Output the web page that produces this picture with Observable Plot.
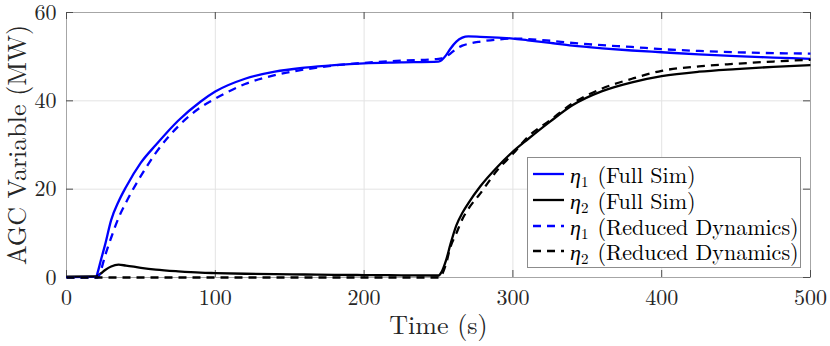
<!DOCTYPE html>
<html><head><meta charset="utf-8">
<script src="https://cdn.jsdelivr.net/npm/d3@7"></script>
<script src="https://cdn.jsdelivr.net/npm/@observablehq/plot@0.6"></script>
<style>
html,body{margin:0;padding:0;background:#fff;}
#wrap{position:relative;width:830px;height:346px;font-family:"Latin Modern Roman","CMU Serif","Liberation Serif",serif;}
#legend{position:absolute;left:527px;top:157px;width:272px;height:109px;border:1px solid #8c8c8c;background:#fff;}
.row{position:absolute;left:0;height:26px;line-height:26px;font-size:22px;color:#000;white-space:nowrap;}
.row svg{position:absolute;left:0;top:0;}
.row .lab{position:absolute;left:42px;top:0;}
.row sub{font-size:15px;vertical-align:-4px;line-height:0;margin-right:9px;}
#ylab{position:absolute;left:16px;top:145px;transform:translate(-50%,-50%) rotate(-90deg);font-size:26px;color:#262626;white-space:nowrap;line-height:1;}
</style></head><body><div id="wrap"></div>
<script>
const FONT = '"Latin Modern Roman","CMU Serif","Liberation Serif",serif';

// Shared time axis (s)
const time = [0, 20, 21, 23, 26, 30, 35, 40, 50, 60, 75, 90, 100, 120, 140, 160, 180, 200, 225, 250,
  252, 255, 258, 262, 266, 270, 278, 290, 300, 310, 325, 340, 360, 380, 400, 425, 450, 475, 500];

const eta1Full = [0.1, 0.2, 1.2, 3.8, 7.5, 13, 17.2, 20.5, 26, 30, 35.5, 39.8, 42.1, 45, 46.6, 47.5, 48.1, 48.5, 48.7, 48.9,
  49.2, 50.3, 51.8, 53.4, 54.3, 54.6, 54.5, 54.3, 54.1, 53.7, 53.1, 52.5, 51.9, 51.4, 51.0, 50.5, 50.1, 49.8, 49.5];

const eta2Full = [0.2, 0.25, 0.4, 0.9, 1.7, 2.5, 2.9, 2.7, 2.2, 1.8, 1.4, 1.1, 1.0, 0.85, 0.75, 0.68, 0.6, 0.55, 0.5, 0.45,
  1.2, 3.8, 7.5, 11.8, 14.6, 16.8, 20.6, 25.2, 28.5, 31.3, 35.3, 39, 42.2, 44.2, 45.6, 46.6, 47.2, 47.7, 48.1];

const eta1Reduced = [0, 0, 0, 1.5, 5, 9, 13.5, 17, 23, 28.2, 34.2, 38.5, 40.5, 43.8, 45.8, 47.1, 48.0, 48.6, 49.1, 49.5,
  49.6, 50.0, 50.7, 51.8, 52.5, 52.9, 53.4, 53.9, 54.1, 54.0, 53.6, 53.1, 52.6, 52.2, 51.7, 51.3, 51.0, 50.8, 50.7];

const eta2Reduced = [0, 0, 0, 0, 0, 0, 0, 0, 0, 0, 0, 0, 0, 0, 0, 0, 0, 0, 0, 0,
  0.5, 3, 6.9, 10, 13.2, 15.5, 19, 24.5, 28, 31.8, 35.6, 39.4, 42.8, 45, 46.8, 47.8, 48.4, 48.9, 49.3];

const seriesNames = ["η1 (Full Sim)", "η2 (Full Sim)", "η1 (Reduced Dynamics)", "η2 (Reduced Dynamics)"];
const legendSub = ["1", "2", "1", "2"];
const legendText = ["(Full Sim)", "(Full Sim)", "(Reduced Dynamics)", "(Reduced Dynamics)"];
const seriesValues = [eta1Full, eta2Full, eta1Reduced, eta2Reduced];

const xTicks = [0, 100, 200, 300, 400, 500];
const yTicks = [0, 20, 40, 60];
const xLabel = "Time (s)";
const yLabel = "AGC Variable (MW)";

// styles (kept separate from data)
const colors = ["#0000ff", "#000000", "#0000ff", "#000000"];
const dashes = [null, null, "8,6", "8,6"];
const LW = 2.3;

const rows = seriesValues.map(vals => time.map((t, i) => ({t, v: vals[i]})));

const fig = Plot.plot({
  width: 830, height: 346,
  marginLeft: 66, marginRight: 20, marginTop: 12, marginBottom: 69,
  style: {fontFamily: FONT, fontSize: "22px", color: "#262626", background: "#fff", overflow: "visible"},
  x: {domain: [0, 500]},
  y: {domain: [0, 60]},
  marks: [
    Plot.gridX(xTicks, {stroke: "#e3e3e3", strokeOpacity: 1}),
    Plot.gridY(yTicks, {stroke: "#e3e3e3", strokeOpacity: 1}),
    Plot.frame({stroke: "#a6a6a6"}),
    Plot.ruleX(xTicks, {x: d => d, insetTop: 258, stroke: "#4d4d4d"}),
    Plot.ruleX(xTicks, {x: d => d, insetBottom: 258, stroke: "#4d4d4d"}),
    Plot.ruleY(yTicks, {y: d => d, insetRight: 737, stroke: "#4d4d4d"}),
    Plot.ruleY(yTicks, {y: d => d, insetLeft: 737, stroke: "#4d4d4d"}),
    Plot.axisX(xTicks, {tickSize: 0, tickPadding: 12, label: null, fontSize: 22}),
    Plot.axisY(yTicks, {tickSize: 0, tickPadding: 10, label: null, fontSize: 22}),
    ...rows.map((r, i) => Plot.line(r, {x: "t", y: "v", stroke: colors[i], strokeWidth: LW,
      strokeDasharray: dashes[i], curve: "monotone-x", strokeLinejoin: "round", strokeLinecap: "butt"})),
    Plot.text([xLabel], {frameAnchor: "bottom", dy: 48, lineAnchor: "middle", fontSize: 26, fill: "#262626"})
  ]
});

const wrap = document.getElementById("wrap");
wrap.appendChild(fig);

// y-axis title
const yl = document.createElement("div");
yl.id = "ylab";
yl.textContent = yLabel;
wrap.appendChild(yl);

// legend
const leg = document.createElement("div");
leg.id = "legend";
const rowTops = [3, 29, 55, 80];
seriesNames.forEach((name, i) => {
  const row = document.createElement("div");
  row.className = "row";
  row.style.top = rowTops[i] + "px";
  row.innerHTML = `<svg width="37" height="26"><line x1="5" x2="36" y1="13" y2="13" stroke="${colors[i]}" stroke-width="${LW}" ${dashes[i] ? `stroke-dasharray="${dashes[i]}"` : ""}/></svg><span class="lab"><i>η</i><sub>${legendSub[i]}</sub>${legendText[i]}</span>`;
  leg.appendChild(row);
});
wrap.appendChild(leg);
</script></body></html>
